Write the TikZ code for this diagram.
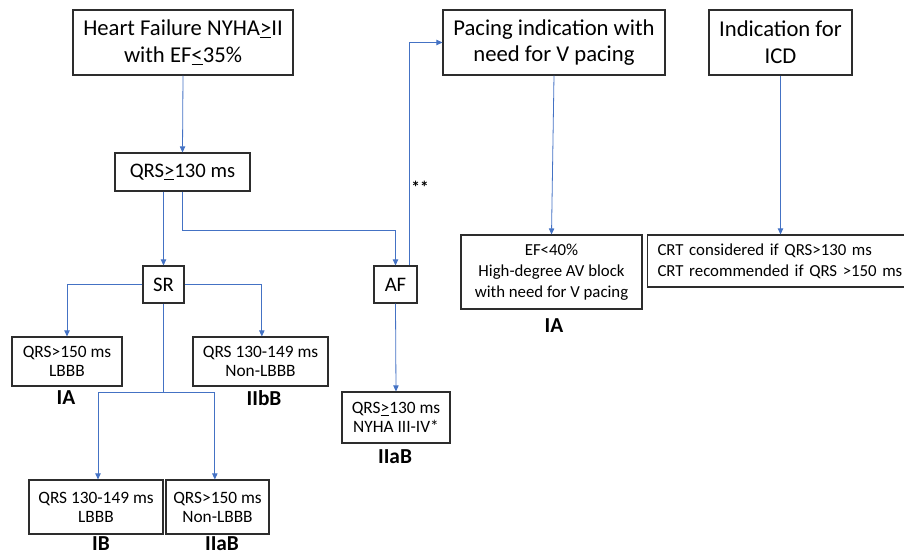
\documentclass[tikz,border=0pt]{standalone}
\usepackage{fontspec}
\setmainfont{Carlito}
\usetikzlibrary{arrows.meta}
\definecolor{linkblue}{RGB}{68,114,196}
\definecolor{boxgray}{RGB}{45,45,45}

\begin{document}
\begin{tikzpicture}[x=0.75pt, y=-0.75pt,
    box/.style={draw=boxgray, line width=0.8pt, align=center, inner sep=2pt},
    bigbox/.style={box, font=\fontsize{17}{20}\selectfont},
    qrsbox/.style={box, font=\fontsize{15.5}{19}\selectfont},
    smallbox/.style={box, font=\fontsize{13}{14.25}\selectfont},
    midbox/.style={box, font=\fontsize{12.6}{15.75}\selectfont},
    grade/.style={font=\bfseries\fontsize{16}{18}\selectfont},
    link/.style={draw=linkblue, line width=0.6pt},
    arr/.style={link, -{Triangle[length=4.5pt,width=4pt]}}]
    \useasboundingbox (0,0) rectangle (904,556);

    % top row
    \node[bigbox, minimum width=165pt, minimum height=48.75pt] (hf) at (183,42.5)
        {Heart Failure NYHA\underline{>}II\\with EF\underline{<}35\%};
    \node[bigbox, minimum width=166.5pt, minimum height=48.75pt] (pace) at (554,42.5)
        {Pacing indication with\\need for V pacing};
    \node[bigbox, minimum width=107.25pt, minimum height=48.75pt] (icd) at (780.5,42.5)
        {Indication for\\ICD};

    \node[qrsbox, minimum width=101.25pt, minimum height=28.5pt] (qrs) at (182.5,172)
        {QRS\underline{>}130 ms};
    \node[qrsbox, minimum width=30.75pt, minimum height=27.75pt] (sr) at (163.5,284.5) {SR};
    \node[qrsbox, minimum width=32.25pt, minimum height=27.75pt] (af) at (395.5,284.5) {AF};

    % result boxes
    \node[smallbox, minimum width=82.5pt, minimum height=36.75pt] (a1) at (67,361.5)
        {QRS>150 ms\\LBBB};
    \node[smallbox, minimum width=101.25pt, minimum height=36.75pt] (a2) at (260.5,361.5)
        {QRS 130-149 ms\\Non-LBBB};
    \node[smallbox, minimum width=100.5pt, minimum height=40.5pt] (b1) at (96,507)
        {QRS 130-149 ms\\LBBB};
    \node[smallbox, minimum width=77.25pt, minimum height=40.5pt] (b2) at (217.5,507)
        {QRS>150 ms\\Non-LBBB};
    \node[smallbox, minimum width=81pt, minimum height=38.25pt] (c1) at (396,417.5)
        {QRS\underline{>}130 ms\\NYHA III-IV*};
    \node[midbox, minimum width=135.75pt, minimum height=55.5pt] (ef) at (551.5,272)
        {EF<40\%\\High-degree AV block\\with need for V pacing};
    \node[midbox, anchor=west, align=left, text width=196pt, inner xsep=7.5pt, minimum height=39pt] (crt) at (647,261)
        {CRT considered if QRS>130 ms\\CRT recommended if QRS >150 ms};

    % classes
    \node[grade] (ga1) at (66,398) {IA};
    \node[grade] (ga2) at (264,398) {IIbB};
    \node[grade] (gb1) at (101,544) {IB};
    \node[grade] (gb2) at (222,544) {IIaB};
    \node[grade] (gc1) at (395,457) {IIaB};
    \node[grade] (gef) at (554,326) {IA};
    \node[font=\bfseries\fontsize{13}{14}\selectfont] (star) at (420,187) {**};

    % connectors
    \coordinate (afbend) at (0,230);
    \coordinate (split) at (163.5,392);
    \draw[arr] (hf.south) -- (qrs.north);
    \draw[arr] (sr.north |- qrs.south) -- (sr.north);
    \draw[arr] (qrs.south) |- (afbend -| af.north) -- (af.north);
    \draw[arr] ([xshift=10.5pt]af.north) |- (pace.west);
    \draw[arr] (pace.south) -- (ef.north);
    \draw[arr] (icd.south) -- (icd.south |- crt.north);
    \draw[arr] (sr.west) -| (a1.north);
    \draw[arr] (sr.east) -| ([xshift=1pt]a2.north);
    \draw[link] (sr.south) -- (split);
    \draw[arr] (split) -| ([xshift=1.5pt]b1.north);
    \draw[arr] (split) -| ([xshift=-2pt]b2.north);
    \draw[arr] (af.south) -- (c1.north);
\end{tikzpicture}
\end{document}
